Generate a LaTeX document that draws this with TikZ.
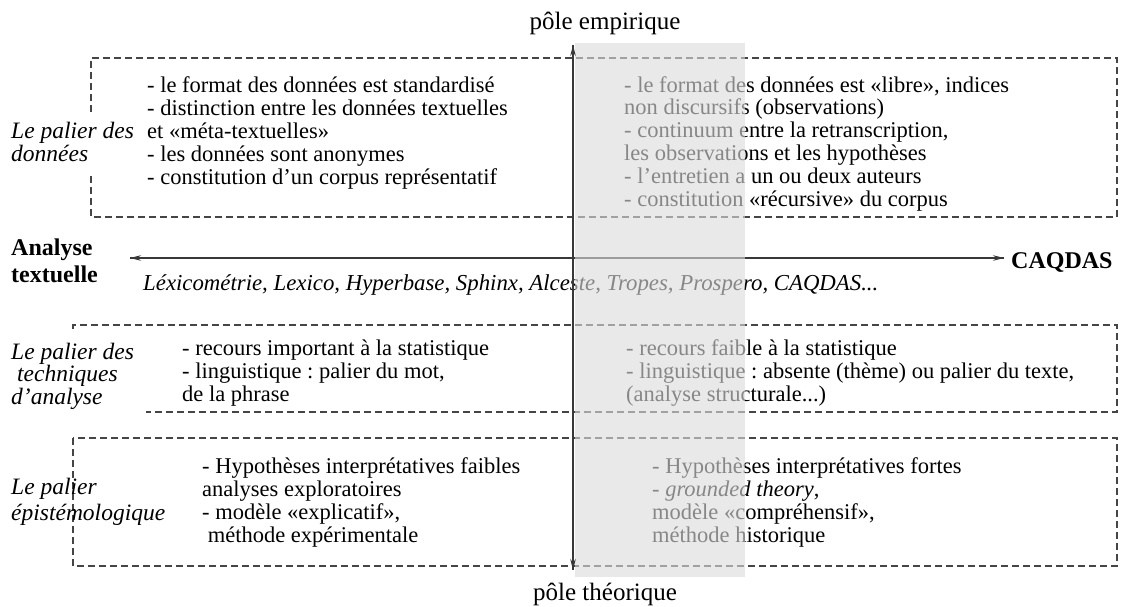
\documentclass[tikz,border=0pt]{standalone}
\usepackage{fontspec}
\setmainfont{Liberation Serif}
\usetikzlibrary{arrows.meta}
\definecolor{veil}{rgb}{0.86,0.86,0.86}
\definecolor{dashcol}{rgb}{0.27,0.27,0.27}
\definecolor{axiscol}{rgb}{0.22,0.22,0.22}
\newcommand\trois{.\kern0pt.\kern0pt.}
\frenchspacing
\begin{document}
\begin{tikzpicture}[x=1pt,y=-1pt,
  body/.style={anchor=base west,inner sep=0pt,font=\fontsize{22.5}{24}\selectfont},
  lab/.style={anchor=base west,inner sep=0pt,font=\fontsize{23.5}{24}\selectfont\itshape},
  bold/.style={anchor=base west,inner sep=0pt,font=\fontsize{24}{26}\selectfont\bfseries},
  pole/.style={anchor=base,inner sep=0pt,font=\fontsize{25}{26}\selectfont},
  dbox/.style={draw=dashcol,line width=1.3pt,dash pattern=on 7pt off 4pt},
  axisline/.style={draw=axiscol,line width=1.2pt},
  tip/.style={-{Stealth[length=11pt,width=5.5pt]}}
]
\useasboundingbox (0,0) rectangle (1124,606);

% dashed frames
\draw[dbox] (91,112) -- (91,58) -- (1117,58) -- (1117,217) -- (91,217) -- (91,173);
\draw[dbox] (73,329) -- (73,325) -- (1117,325) -- (1117,412) -- (146,412);
\draw[dbox] (73,438) rectangle (1117,566);

% horizontal axis
\coordinate (hl) at (130,258);
\coordinate (hr) at (1004,258);
\draw[axisline,tip] (hr) -- (hl);
\draw[axisline,tip] (hl) -- (hr);

% pole labels
\node[pole] (pemp) at (605,29) {pôle empirique};
\node[pole] (pthe) at (605,600) {pôle théorique};

% axis labels
\node[bold] (at1) at (11,255) {Analyse};
\node[bold] (at2) at (11,282) {textuelle};
\node[bold] (caq) at (1011,268) {CAQDAS};
\node[body,font=\fontsize{22.8}{25}\selectfont\itshape] (tools) at (143,290) {Léxicométrie, Lexico, Hyperbase, Sphinx, Alceste, Tropes, Prospero, CAQDAS\trois};

% level labels
\node[lab] (l1a) at (11,138) {Le palier des};
\node[lab] (l1b) at (11,161) {données};
\node[lab] (l2a) at (11,359) {Le palier des};
\node[lab] (l2b) at (17,381) {techniques};
\node[lab] (l2c) at (11,404) {d’analyse};
\node[lab] (l3a) at (11,494) {Le palier};
\node[lab] (l3b) at (11,520) {épistémologique};

% box 1
\foreach \t [count=\i] in {{- le format des données est standardisé},{- distinction entre les données textuelles},{et «méta-textuelles»},{- les données sont anonymes},{- constitution d’un corpus représentatif}}
  \node[body] (a\i) at ({147},{92+23*(\i-1)}) {\t};
\foreach \t [count=\i] in {{- le format des données est «libre», indices},{non discursifs (observations)},{- continuum entre la retranscription,},{les observations et les hypothèses},{- l’entretien a un ou deux auteurs},{- constitution «récursive» du corpus}}
  \node[body] (b\i) at ({624},{92+22.9*(\i-1)}) {\t};

% box 2
\foreach \t [count=\i] in {{- recours important à la statistique},{- linguistique : palier du mot,},{de la phrase}}
  \node[body] (c\i) at ({182},{355+23.3*(\i-1)}) {\t};
\foreach \t [count=\i] in {{- recours faible à la statistique},{- linguistique : absente (thème) ou palier du texte,},{(analyse structurale\trois)}}
  \node[body] (d\i) at ({626},{355+23.3*(\i-1)}) {\t};

% box 3
\foreach \t [count=\i] in {{- Hypothèses interprétatives faibles},{analyses exploratoires},{- modèle «explicatif»,},{\ méthode expérimentale}}
  \node[body] (e\i) at ({202},{473+23.3*(\i-1)}) {\t};
\foreach \t [count=\i] in {{- Hypothèses interprétatives fortes},{- \textit{grounded theory},},{modèle «compréhensif»,},{méthode historique}}
  \node[body] (f\i) at ({652},{473+23.3*(\i-1)}) {\t};

% grey band
\fill[veil,fill opacity=0.62] (575,43) rectangle (745,577);

% vertical axis
\coordinate (vt) at (573,45);
\coordinate (vb) at (573,570);
\draw[axisline,tip] (vb) -- (vt);
\draw[axisline,tip] (vt) -- (vb);
\end{tikzpicture}
\end{document}
